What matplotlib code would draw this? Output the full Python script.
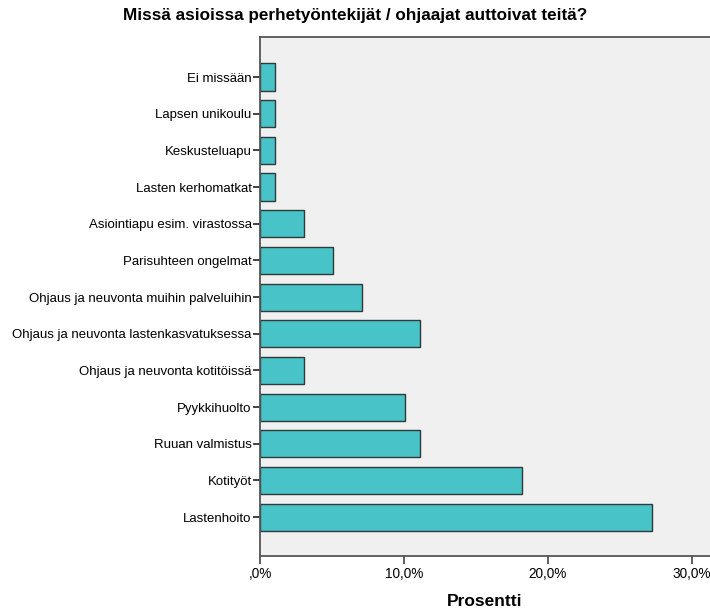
import matplotlib.pyplot as plt
from matplotlib.ticker import FuncFormatter

plt.rcParams['font.family'] = ['Liberation Sans', 'DejaVu Sans']

categories = ['Lastenhoito', 'Kotityöt', 'Ruuan valmistus', 'Pyykkihuolto',
              'Ohjaus ja neuvonta kotitöissä', 'Ohjaus ja neuvonta lastenkasvatuksessa',
              'Ohjaus ja neuvonta muihin palveluihin', 'Parisuhteen ongelmat',
              'Asiointiapu esim. virastossa', 'Lasten kerhomatkat', 'Keskusteluapu',
              'Lapsen unikoulu', 'Ei missään']
counts = [27, 18, 11, 10, 3, 11, 7, 5, 3, 1, 1, 1, 1]
total = 99
percents = [c / total * 100 for c in counts]

fig = plt.figure(figsize=(7.1, 6.12), dpi=100)
ax = fig.add_axes([260 / 710, 1 - 556 / 612, 1 - 260 / 710, (556 - 36.7) / 612])
ax.set_facecolor('#f0f0f0')

ax.barh(range(len(categories)), percents, height=0.74, color='#48c3c7',
        edgecolor='#2f3a3a', linewidth=1.0)

ax.set_yticks(range(len(categories)))
ax.set_yticklabels(categories, fontsize=9.5)
ax.set_ylim(-1.06, 13.1)
ax.set_xlim(0, 450 / 14.39)
ax.set_xticks([0, 10, 20, 30])
ax.xaxis.set_major_formatter(FuncFormatter(
    lambda v, p: ',0%' if v == 0 else f'{v:.1f}%'.replace('.', ',')))
ax.tick_params(axis='x', labelsize=9.8, length=6, width=1.2, color='#444444', pad=2)
ax.tick_params(axis='y', length=5, width=1.2, color='#222222', pad=1)

for side in ['left', 'bottom', 'top']:
    ax.spines[side].set_color('#555555')
    ax.spines[side].set_linewidth(1.3)
ax.spines['right'].set_visible(False)

ax.set_xlabel('Prosentti', fontsize=12.5, fontweight='bold', labelpad=9)
fig.suptitle('Missä asioissa perhetyöntekijät / ohjaajat auttoivat teitä?',
             fontsize=12.3, fontweight='bold', x=0.5, y=0.987)

fig.savefig('out.png', dpi=100)
